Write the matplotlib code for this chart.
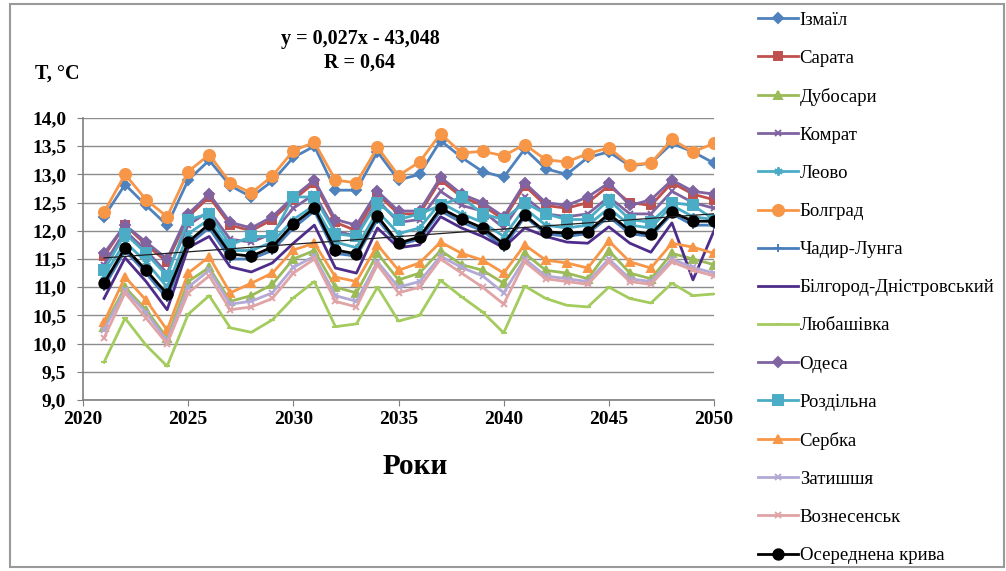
import matplotlib.pyplot as plt
from matplotlib.ticker import FuncFormatter, MultipleLocator
from matplotlib.patches import Rectangle
import numpy as np

years = np.arange(2021, 2051)

izmail = [12.25, 12.82, 12.45, 12.10, 12.90, 13.25, 12.80, 12.60, 12.88, 13.30,
          13.50, 12.72, 12.72, 13.40, 12.90, 13.00, 13.60, 13.30, 13.05, 12.95,
          13.45, 13.10, 13.00, 13.30, 13.40, 13.15, 13.20, 13.55, 13.40, 13.20]
sarata = [11.55, 12.10, 11.75, 11.45, 12.25, 12.60, 12.10, 12.00, 12.20, 12.55,
          12.85, 12.15, 12.00, 12.65, 12.30, 12.30, 12.90, 12.60, 12.45, 12.20,
          12.80, 12.45, 12.40, 12.50, 12.80, 12.50, 12.45, 12.85, 12.65, 12.55]
dubosary = [10.30, 11.00, 10.60, 10.10, 11.10, 11.35, 10.75, 10.85, 11.05, 11.50,
            11.65, 11.00, 10.90, 11.60, 11.13, 11.25, 11.65, 11.40, 11.30, 11.07,
            11.60, 11.30, 11.25, 11.15, 11.65, 11.25, 11.15, 11.60, 11.50, 11.40]
komrat = [11.40, 12.00, 11.65, 11.25, 12.10, 12.35, 11.85, 11.80, 11.95, 12.40,
          12.65, 12.00, 11.90, 12.55, 12.15, 12.20, 12.70, 12.45, 12.35, 12.05,
          12.60, 12.30, 12.25, 12.30, 12.60, 12.30, 12.30, 12.70, 12.50, 12.40]
leovo = [11.20, 11.80, 11.45, 11.00, 11.95, 12.20, 11.65, 11.65, 11.80, 12.20,
         12.45, 11.80, 11.70, 12.35, 11.95, 12.05, 12.50, 12.30, 12.15, 11.90,
         12.40, 12.10, 12.05, 12.10, 12.40, 12.10, 12.05, 12.45, 12.25, 12.20]
bolhrad = [12.33, 13.00, 12.55, 12.25, 13.05, 13.35, 12.85, 12.67, 12.97, 13.42,
           13.57, 12.90, 12.85, 13.48, 12.98, 13.22, 13.72, 13.38, 13.41, 13.33,
           13.53, 13.26, 13.22, 13.37, 13.47, 13.17, 13.20, 13.62, 13.40, 13.55]
chadyr = [11.00, 11.65, 11.25, 10.80, 11.75, 12.05, 11.50, 11.50, 11.65, 12.05,
          12.35, 11.60, 11.55, 12.20, 11.75, 11.85, 12.35, 12.15, 12.00, 11.70,
          12.25, 11.95, 11.90, 11.95, 12.25, 11.95, 11.90, 12.30, 12.10, 12.10]
bilhorod = [10.80, 11.52, 11.10, 10.60, 11.70, 11.90, 11.36, 11.27, 11.43, 11.78,
            12.10, 11.34, 11.25, 12.05, 11.70, 11.75, 12.25, 12.05, 11.90, 11.70,
            12.05, 11.90, 11.80, 11.78, 12.07, 11.78, 11.62, 12.14, 11.13, 12.00]
liubashivka = [9.67, 10.45, 9.97, 9.60, 10.52, 10.85, 10.28, 10.20, 10.42, 10.81,
               11.10, 10.30, 10.35, 11.00, 10.40, 10.50, 11.12, 10.83, 10.56, 10.19,
               11.02, 10.80, 10.68, 10.65, 11.00, 10.80, 10.72, 11.07, 10.85, 10.88]
odesa = [11.60, 12.10, 11.80, 11.50, 12.30, 12.65, 12.15, 12.05, 12.25, 12.60,
         12.90, 12.20, 12.10, 12.70, 12.35, 12.35, 12.95, 12.65, 12.50, 12.25,
         12.85, 12.50, 12.45, 12.60, 12.85, 12.45, 12.55, 12.90, 12.70, 12.65]
rozdilna = [11.30, 11.95, 11.60, 11.20, 12.20, 12.30, 11.75, 11.90, 11.90, 12.60,
            12.60, 11.95, 11.90, 12.50, 12.20, 12.30, 12.45, 12.60, 12.30, 12.20,
            12.50, 12.30, 12.20, 12.20, 12.55, 12.20, 12.15, 12.50, 12.45, 12.20]
serbka = [10.38, 11.18, 10.77, 10.24, 11.25, 11.54, 10.90, 11.07, 11.25, 11.66,
          11.78, 11.18, 11.10, 11.75, 11.30, 11.43, 11.80, 11.60, 11.48, 11.25,
          11.75, 11.48, 11.43, 11.34, 11.82, 11.45, 11.34, 11.78, 11.71, 11.60]
zatyshshia = [10.25, 10.95, 10.55, 10.05, 11.00, 11.30, 10.70, 10.75, 10.90, 11.35,
              11.55, 10.85, 10.75, 11.45, 11.00, 11.10, 11.55, 11.35, 11.20, 10.90,
              11.50, 11.20, 11.15, 11.10, 11.50, 11.15, 11.10, 11.50, 11.35, 11.25]
voznesensk = [10.10, 10.90, 10.45, 10.00, 10.90, 11.20, 10.60, 10.65, 10.80, 11.25,
              11.50, 10.75, 10.65, 11.40, 10.90, 11.00, 11.50, 11.25, 11.00, 10.70,
              11.45, 11.15, 11.10, 11.05, 11.45, 11.10, 11.05, 11.45, 11.30, 11.20]
average = [11.07, 11.70, 11.30, 10.88, 11.80, 12.12, 11.59, 11.55, 11.71, 12.12,
           12.40, 11.66, 11.59, 12.26, 11.78, 11.89, 12.40, 12.21, 12.05, 11.77,
           12.28, 11.98, 11.96, 11.98, 12.30, 12.00, 11.94, 12.33, 12.17, 12.17]

trend_a, trend_b = 0.027, -43.048

series = [
    ('Ізмаїл', izmail, '#4F81BD', 'D', 5),
    ('Сарата', sarata, '#C0504D', 's', 5.5),
    ('Дубосари', dubosary, '#9BBB59', '^', 5.5),
    ('Комрат', komrat, '#8064A2', 'x', 5),
    ('Леово', leovo, '#4BACC6', (6, 2, 0), 6),
    ('Болград', bolhrad, '#F79646', 'o', 8),
    ('Чадир-Лунга', chadyr, '#4A7EBB', '+', 6),
    ('Білгород-Дністровський', bilhorod, '#4E2C8A', None, 0),
    ('Любашівка', liubashivka, '#A4CB5E', '_', 4),
    ('Одеса', odesa, '#8064A2', 'D', 5),
    ('Роздільна', rozdilna, '#4BACC6', 's', 6.5),
    ('Сербка', serbka, '#F79646', '^', 6),
    ('Затишшя', zatyshshia, '#B3A9D6', 'x', 5),
    ('Вознесенськ', voznesensk, '#E0A3A6', 'x', 5),
    ('Осереднена крива', average, '#000000', 'o', 7.5),
]

plt.rcParams['font.family'] = ['Liberation Serif', 'DejaVu Serif']

fig = plt.figure(figsize=(10.06, 5.71), dpi=100)
ax = fig.add_axes([83 / 1006, 1 - 400 / 571, (714 - 83) / 1006, (400 - 118) / 571])

handles = []
for name, vals, col, mk, ms in series:
    h, = ax.plot(years, vals, color=col, lw=2.0, marker=mk, markersize=ms,
                 markeredgecolor=col, markerfacecolor=col, markeredgewidth=1.4,
                 label=name)
    handles.append(h)

tx = np.array([2021, 2050])
ax.plot(tx, trend_a * tx + trend_b, color='#202020', lw=0.9, zorder=5)

ax.set_xlim(2020, 2050)
ax.set_ylim(9.0, 14.0)
ax.xaxis.set_major_locator(MultipleLocator(5))
ax.yaxis.set_major_locator(MultipleLocator(0.5))
ax.yaxis.set_major_formatter(FuncFormatter(lambda v, p: f'{v:.1f}'.replace('.', ',')))
ax.grid(axis='y', color='#8c8c8c', lw=1.0)
ax.set_axisbelow(True)
for s in ['top', 'right']:
    ax.spines[s].set_visible(False)
ax.spines['left'].set_color('#7f7f7f')
ax.spines['bottom'].set_color('#7f7f7f')
ax.spines['left'].set_linewidth(1.2)
ax.spines['bottom'].set_linewidth(1.2)
ax.tick_params(axis='both', length=4, color='#7f7f7f', labelsize=14)
ax.tick_params(axis='x', pad=4)
ax.tick_params(axis='y', pad=8)
for lab in ax.get_xticklabels() + ax.get_yticklabels():
    lab.set_fontweight('bold')

fig.text(360 / 1006, 1 - 39 / 571, 'y = 0,027x - 43,048', ha='center', va='center',
         fontsize=14.5, fontweight='bold')
fig.text(360 / 1006, 1 - 63 / 571, 'R = 0,64', ha='center', va='center',
         fontsize=14.5, fontweight='bold')
fig.text(35 / 1006, 1 - 74 / 571, 'T, °C', ha='left', va='center',
         fontsize=14.5, fontweight='bold')
fig.text(415 / 1006, 1 - 467 / 571, 'Роки', ha='center', va='center',
         fontsize=21, fontweight='bold')

fig.legend(handles=handles, loc='upper left', bbox_to_anchor=(750 / 1006, 1 - 4 / 571),
           frameon=False, fontsize=13.5, handlelength=2.15, handletextpad=0.1,
           labelspacing=1.12, borderaxespad=0)

fig.patches.append(Rectangle((10 / 1006, 4 / 571), 994 / 1006, 563 / 571,
                             transform=fig.transFigure, fill=False,
                             edgecolor='#9a9a9a', lw=1.5))

fig.savefig('out.png', dpi=100)
